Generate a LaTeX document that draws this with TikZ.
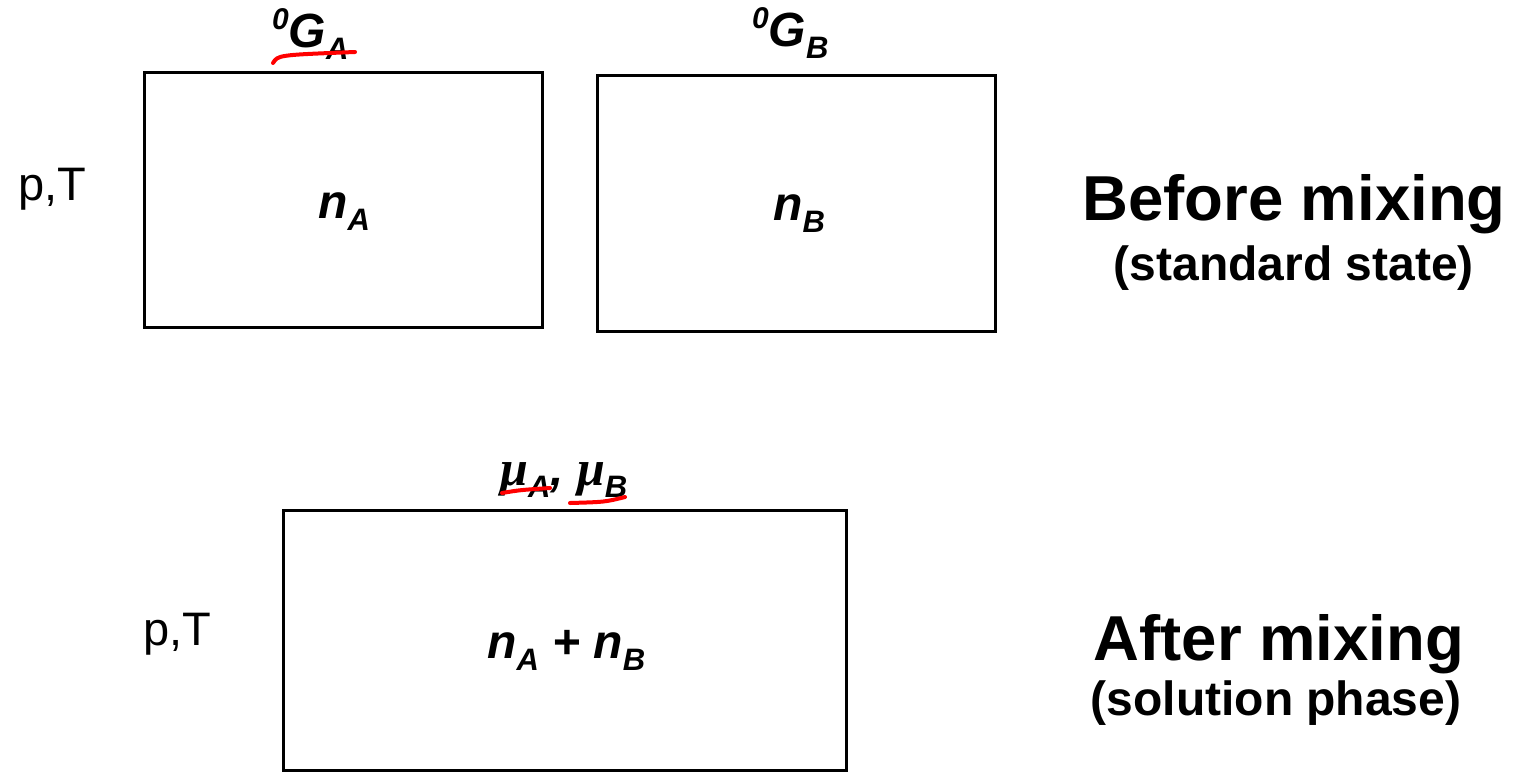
\documentclass[tikz,border=0pt]{standalone}
\usepackage{fontspec}
\setmainfont{Liberation Sans}
\newfontfamily\greekfont{Liberation Serif}
\usetikzlibrary{positioning}
\tikzset{>=stealth}
\tikzset{vessel/.style={draw, line width=3pt, inner sep=0pt},
  lbl/.style={inner sep=0pt, font=\fontsize{48}{54}\selectfont\bfseries\itshape},
  cond/.style={inner sep=0pt, font=\fontsize{47}{52}\selectfont},
  stage/.style={inner sep=0pt, font=\fontsize{63.5}{70}\selectfont\bfseries},
  sidenote/.style={inner sep=0pt, font=\fontsize{48}{54}\selectfont\bfseries},
  redline/.style={red, line width=4pt, line cap=round}}
\newcommand{\sbs}[1]{\raisebox{-12pt}{\fontsize{31}{31}\selectfont #1}}
\newcommand{\sps}[1]{\raisebox{18pt}{\fontsize{30}{30}\selectfont #1}}
\newcommand{\chem}{{\greekfont\fontsize{50}{54}\selectfont\itshape\bfseries μ}}

\begin{document}
\begin{tikzpicture}[x=1pt,y=-1pt]
  \useasboundingbox (0,0) rectangle (1513,772);

  % containers before mixing
  \node[vessel, minimum width=398pt, minimum height=255pt] (boxA) at (343,199.5) {};
  \node[vessel, minimum width=398pt, minimum height=256pt] (boxB) at (796,203) {};
  \node[lbl, anchor=base west] (nA) at (318,218) {n\sbs{A}};
  \node[lbl, anchor=base west] (nB) at (773,220) {n\sbs{B}};
  \node[lbl, anchor=base west] (GA) at (272,47) {\sps{0}G\sbs{A}};
  \node[lbl, anchor=base west] (GB) at (752,46) {\sps{0}G\sbs{B}};
  \node[cond, anchor=base west] (pT1) at (18,200) {p,T};

  % container after mixing
  \node[vessel, minimum width=563pt, minimum height=260pt] (boxMix) at (564.5,640) {};
  \node[lbl, anchor=base west] (nAB) at (487,658) {n\sbs{A} + n\sbs{B}};
  \node[lbl, anchor=base west] (mu) at (500,485) {\chem\sbs{A}, \chem\sbs{B}};
  \node[cond, anchor=base west] (pT2) at (143,645) {p,T};

  % stage captions
  \node[stage, anchor=base] (before) at (1294,220) {Before mixing};
  \node[sidenote, anchor=base] (std) at (1294,280) {(standard state)};
  \node[stage, anchor=base] (after) at (1279,660) {After mixing};
  \node[sidenote, anchor=base] (sol) at (1276,715) {(solution phase)};

  % red underlines
  \draw[redline] (273,63) .. controls (278,55) .. (355,52);
  \draw[redline] (502,493) .. controls (520,490) .. (550,488);
  \draw[redline] (570,503) .. controls (605,502) .. (625,497);
\end{tikzpicture}
\end{document}
